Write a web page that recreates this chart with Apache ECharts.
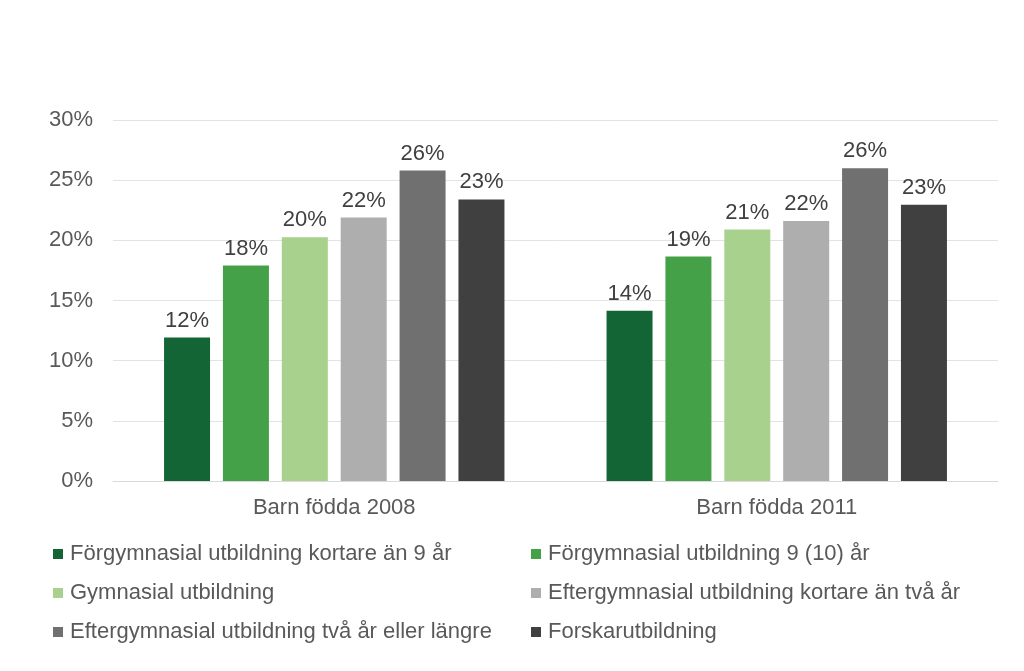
<!DOCTYPE html>
<html><head><meta charset="utf-8">
<script src="https://cdn.jsdelivr.net/npm/echarts@6/dist/echarts.min.js"></script>
<style>html,body{margin:0;padding:0;background:#fff;}#c{width:1024px;height:671px;}</style>
</head><body><div id="c"></div>
<script>
const categories = ['Barn födda 2008', 'Barn födda 2011'];
const seriesNames = [
  'Förgymnasial utbildning kortare än 9 år',
  'Förgymnasial utbildning 9 (10) år',
  'Gymnasial utbildning',
  'Eftergymnasial utbildning kortare än två år',
  'Eftergymnasial utbildning två år eller längre',
  'Forskarutbildning'
];
const s1 = [11.93, 14.15];
const s2 = [17.9, 18.65];
const s3 = [20.26, 20.9];
const s4 = [21.9, 21.6];
const s5 = [25.8, 26.0];
const s6 = [23.4, 22.95];
const yTicks = [0, 5, 10, 15, 20, 25, 30];
const colors = ['#136535', '#44a147', '#a9d18e', '#aeaeae', '#707070', '#404040'];

const allData = [s1, s2, s3, s4, s5, s6];
const font = 'Liberation Sans, Arial, sans-serif';
const txt = '#595959';
const chart = echarts.init(document.getElementById('c'));
const legendCommon = {
  orient: 'vertical', top: 538, icon: 'rect', itemWidth: 10, itemHeight: 10,
  itemGap: 17, textStyle: {fontFamily: font, fontSize: 22, color: txt, lineHeight: 22, padding: [0,0,0,2]}
};
chart.setOption({
  animation: false,
  color: colors,
  grid: {left: 113, right: 26, top: 120, bottom: 190},
  legend: [
    Object.assign({left: 48, data: [seriesNames[0], seriesNames[2], seriesNames[4]]}, legendCommon),
    Object.assign({left: 526, data: [seriesNames[1], seriesNames[3], seriesNames[5]]}, legendCommon)
  ],
  xAxis: {
    type: 'category', data: categories,
    axisLine: {lineStyle: {color: '#d9d9d9'}},
    axisTick: {show: false},
    axisLabel: {fontFamily: font, fontSize: 22, color: txt, margin: 16}
  },
  yAxis: {
    type: 'value', min: yTicks[0], max: yTicks[yTicks.length - 1], interval: 5,
    axisLine: {show: false}, axisTick: {show: false},
    splitLine: {lineStyle: {color: '#e3e3e3'}},
    axisLabel: {fontFamily: font, fontSize: 22, color: txt, margin: 20, formatter: v => v + '%'}
  },
  series: allData.map((d, i) => ({
    name: seriesNames[i], type: 'bar', data: d,
    barWidth: 46, barGap: '28%',
    label: {show: true, position: 'top', distance: 6, fontFamily: font, fontSize: 22, color: '#404040',
      formatter: p => Math.round(p.value) + '%'}
  }))
});
</script></body></html>
